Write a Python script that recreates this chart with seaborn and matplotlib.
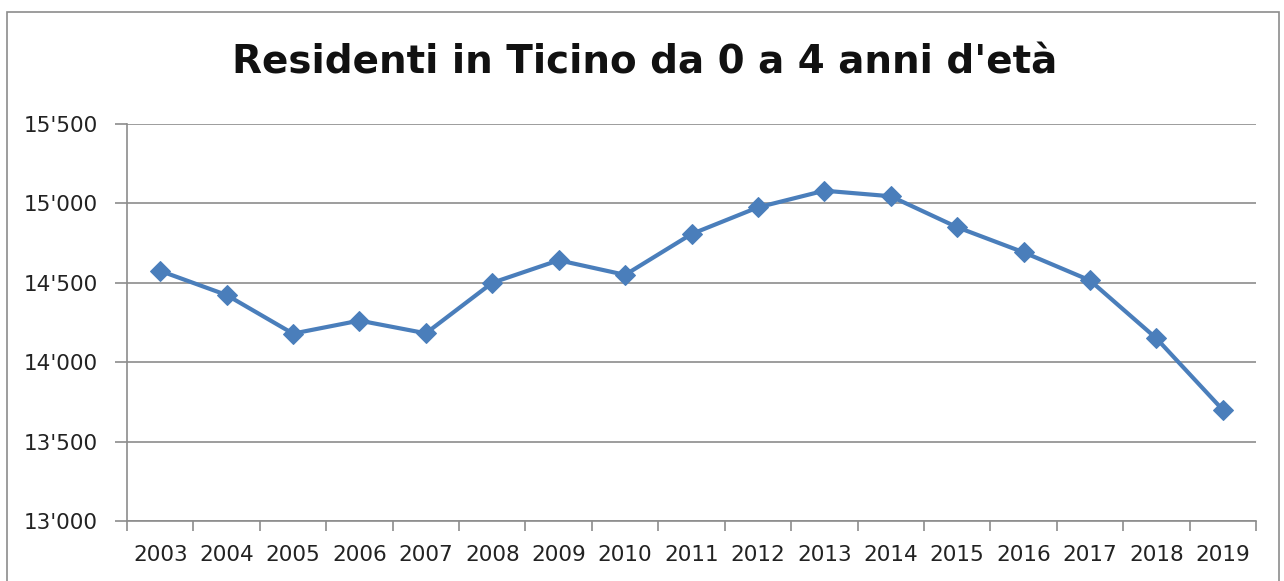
import numpy as np
import pandas as pd
import matplotlib
matplotlib.use("Agg")
import matplotlib.pyplot as plt
import seaborn as sns
from matplotlib.ticker import FuncFormatter, FixedLocator
from matplotlib.patches import Rectangle

years = [str(y) for y in range(2003, 2020)]
residents = [14575, 14423, 14180, 14262, 14182, 14500, 14642, 14550, 14807,
             14975, 15080, 15045, 14850, 14692, 14515, 14150, 13700]
y_ticks = [13000, 13500, 14000, 14500, 15000, 15500]

df = pd.DataFrame({"anno": years, "residenti": residents})

sns.set_style("white")
plt.rcParams['font.family'] = ['DejaVu Sans']

fig = plt.figure(figsize=(12.84, 5.81), dpi=100)
ax = fig.add_axes([127/1284, 1-521/581, (1256-127)/1284, (521-124)/581])

sns.lineplot(data=df, x="anno", y="residenti", ax=ax, color="#4A7EBB",
             linewidth=3, marker="D", markersize=10, markeredgecolor="#4A7EBB",
             sort=False)

ax.set_xlim(-0.5, len(years) - 0.5)
ax.set_ylim(13000, 15500)
ax.yaxis.set_major_locator(FixedLocator(y_ticks))
ax.yaxis.set_major_formatter(FuncFormatter(lambda v, p: f"{int(v):,}".replace(",", "'")))
ax.grid(axis="y", color="#8c8c8c", linewidth=1.2)
ax.set_axisbelow(True)

ax.set_xticks(np.arange(len(years)))
ax.set_xticklabels(years)
ax.set_xticks(np.arange(-0.5, len(years)), minor=True)
ax.tick_params(axis="x", which="major", bottom=True, length=0, pad=17, labelsize=15.5, labelcolor="#222222")
ax.tick_params(axis="x", which="minor", bottom=True, length=7, width=1.2, color="#8c8c8c", direction="out")
ax.tick_params(axis="y", left=True, length=9, width=1.2, color="#8c8c8c", labelsize=15.5, labelcolor="#222222", pad=12)
ax.set_xlabel("")
ax.set_ylabel("")

for s in ["top", "right"]:
    ax.spines[s].set_visible(False)
for s in ["left", "bottom"]:
    ax.spines[s].set_color("#8c8c8c")
    ax.spines[s].set_linewidth(1.2)

fig.text(645/1284, 1-62/581, "Residenti in Ticino da 0 a 4 anni d'età",
         ha="center", va="center", fontsize=28, fontweight="bold", color="#111111")

fig.patches.append(Rectangle((7/1284, -0.01), (1279-7)/1284, 1-12/581 + 0.01,
                             transform=fig.transFigure, fill=False,
                             edgecolor="#8c8c8c", linewidth=1.2))

fig.savefig("out.png", dpi=100)
